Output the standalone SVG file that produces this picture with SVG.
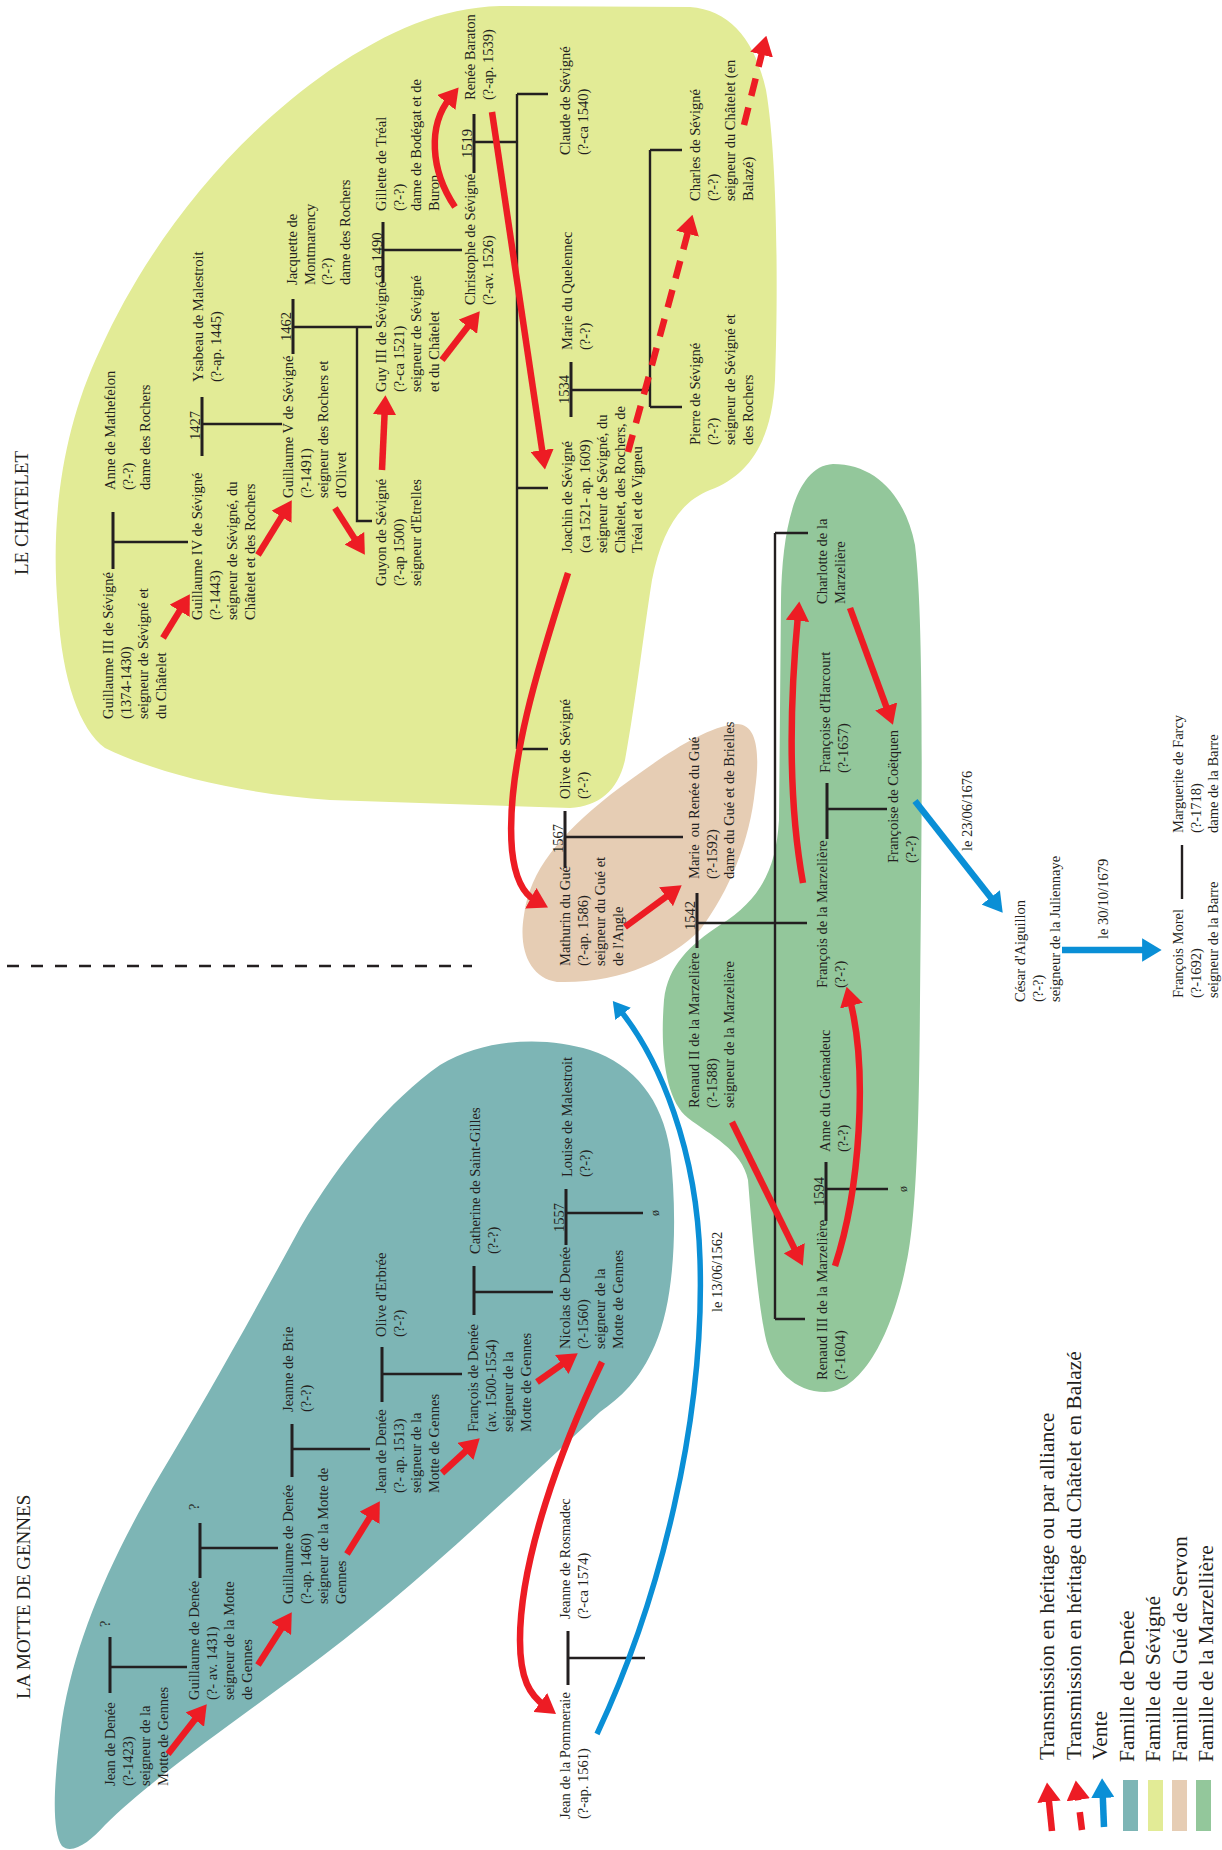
<svg xmlns="http://www.w3.org/2000/svg" width="1222" height="1850" viewBox="0 0 1222 1850">
<style>
.t{font-family:"Liberation Serif","Times New Roman",serif;font-size:14.5px;fill:#231f20}
.ttl{font-family:"Liberation Serif","Times New Roman",serif;font-size:19px;fill:#231f20}
.lg{font-family:"Liberation Serif","Times New Roman",serif;font-size:21.5px;fill:#231f20}
.ln{stroke:#231f20;stroke-width:2.4;fill:none}
.bar{stroke:#231f20;stroke-width:3;fill:none}
.red{stroke:#ed1c24;stroke-width:6.5;fill:none;marker-end:url(#hr)}
.dsh{stroke-dasharray:18 12}
.blue{stroke:#0a8fd6;stroke-width:6.5;fill:none;marker-end:url(#hb)}
.bluel{stroke:#0a8fd6;stroke-width:5.5;fill:none;marker-end:url(#hb)}
</style>
<defs>
<marker id="hr" viewBox="0 0 10 12" refX="3" refY="6" markerWidth="3" markerHeight="3.6" orient="auto" markerUnits="strokeWidth"><path d="M0,0 L10,6 L0,12 z" fill="#ed1c24"/></marker>
<marker id="hb" viewBox="0 0 10 12" refX="3" refY="6" markerWidth="3" markerHeight="3.6" orient="auto" markerUnits="strokeWidth"><path d="M0,0 L10,6 L0,12 z" fill="#0a8fd6"/></marker>
</defs>
<rect width="1222" height="1850" fill="#ffffff"/>

<!-- family areas -->
<g id="areas">
<path id="area-denee" fill="#7db5b5" d="M62,1846 C50,1830 55,1770 62,1720 C75,1640 110,1560 160,1475 C205,1400 250,1320 300,1228 C340,1160 390,1100 440,1065 C485,1038 545,1036 590,1050 C635,1065 662,1100 670,1150 C678,1220 675,1300 655,1345 C640,1380 620,1398 600,1412 C500,1505 400,1600 300,1673 C230,1725 150,1780 105,1825 C90,1842 72,1855 62,1846 Z"/>
<path id="area-sevigne" fill="#e2eb96" d="M58,610 C50,520 62,430 100,350 C150,240 230,140 330,70 C390,30 440,8 500,6 L690,7 C730,10 755,40 766,90 C778,160 778,300 775,380 C772,440 750,475 710,490 C680,502 662,530 652,580 C644,630 636,700 625,760 C618,790 600,806 570,808 L330,800 C250,795 160,775 105,748 C80,730 62,680 58,610 Z"/>
<path id="area-marzeliere" fill="#93c79b" d="M833,464 C875,464 905,495 915,545 C924,620 922,800 920,1000 C919,1150 915,1230 905,1270 C890,1340 860,1392 825,1392 C795,1392 772,1370 765,1335 C757,1295 752,1230 748,1180 C742,1150 710,1135 688,1118 C665,1100 660,1050 664,1000 C668,965 690,945 720,925 C760,900 776,870 779,820 L781,600 C782,530 795,466 833,464 Z"/>
<path id="area-gue" fill="#e6cdb4" d="M557,982 C530,978 518,950 524,915 C530,870 560,835 610,795 C650,765 700,728 735,724 C758,722 760,755 755,790 C750,840 730,890 700,930 C670,960 620,984 557,982 Z"/>
</g>

<!-- separator between the two estates -->
<line class="ln" x1="7" y1="966" x2="472" y2="966" stroke-width="2.5" stroke-dasharray="12 12"/>

<!-- titles -->
<text class="ttl" transform="translate(28,575) rotate(-90)">LE CHATELET</text>
<text class="ttl" transform="translate(30,1699) rotate(-90)">LA MOTTE DE GENNES</text>

<!-- kinship lines -->
<g id="connectors">
<path class="bar" d="M113,512 V569 M202,397 V456 M293,299 V354 M383,222 V283 M474,114 V173 M571,362 V417 M565,811 V867 M697,893 V948 M827,783 V839 M826,1162 V1221 M566,1189 V1245 M474,1266 V1315 M382,1347 V1402 M292,1424 V1477 M200,1523 V1578 M110,1637 V1693 M568,1631 V1685"/>
<path class="ln" d="M113,542 H188 M202,424 H282 M293,327 H372 M357,327 V521 H372 M383,250 H462 M474,142 H517 M517,94 V749 M517,94 H548 M517,488 H548 M517,749 H548 M571,390 H650 M650,150 V407 M650,150 H682 M650,407 H682 M565,837 H683 M697,923 H807 M775,533 V1319 M775,533 H808 M775,1319 H805 M827,809 H887 M826,1189 H888 M566,1213 H643 M474,1292 H553 M382,1374 H462 M292,1449 H370 M200,1548 H278 M110,1667 H187 M568,1658 H645 M1182,845 V899"/>
</g>

<!-- marriage years and marks -->
<g id="years" class="t">
<text transform="translate(200,440) rotate(-90)">1427</text>
<text transform="translate(291,341) rotate(-90)">1462</text>
<text transform="translate(382,278) rotate(-90)">ca 1490</text>
<text transform="translate(472,158) rotate(-90)">1519</text>
<text transform="translate(569,404) rotate(-90)">1534</text>
<text transform="translate(563,853) rotate(-90)">1567</text>
<text transform="translate(695,930) rotate(-90)">1542</text>
<text transform="translate(824,1206) rotate(-90)">1594</text>
<text transform="translate(564,1232) rotate(-90)">1557</text>
<text transform="translate(110,1627) rotate(-90)">?</text>
<text transform="translate(199,1510) rotate(-90)">?</text>
<text transform="translate(907,1189) rotate(-90)" text-anchor="middle" font-size="12">ø</text>
<text transform="translate(659,1213) rotate(-90)" text-anchor="middle" font-size="12">ø</text>
</g>

<!-- persons -->
<g id="n-guillaume-iii" transform="translate(113,719) rotate(-90)"><text class="t"><tspan x="0" y="0">Guillaume III de Sévigné</tspan><tspan x="0" y="17.5">(1374-1430)</tspan><tspan x="0" y="35">seigneur de Sévigné et</tspan><tspan x="0" y="52.5">du Châtelet</tspan></text></g>
<g id="n-anne-mathefelon" transform="translate(115,490) rotate(-90)"><text class="t"><tspan x="0" y="0">Anne de Mathefelon</tspan><tspan x="0" y="17.5">(?-?)</tspan><tspan x="0" y="35">dame des Rochers</tspan></text></g>
<g id="n-guillaume-iv" transform="translate(202,620) rotate(-90)"><text class="t"><tspan x="0" y="0">Guillaume IV de Sévigné</tspan><tspan x="0" y="17.5">(?-1443)</tspan><tspan x="0" y="35">seigneur de Sévigné, du</tspan><tspan x="0" y="52.5">Châtelet et des Rochers</tspan></text></g>
<g id="n-ysabeau" transform="translate(203,382) rotate(-90)"><text class="t"><tspan x="0" y="0">Ysabeau de Malestroit</tspan><tspan x="0" y="17.5">(?-ap. 1445)</tspan></text></g>
<g id="n-guillaume-v" transform="translate(293,498) rotate(-90)"><text class="t"><tspan x="0" y="0">Guillaume V de Sévigné</tspan><tspan x="0" y="17.5">(?-1491)</tspan><tspan x="0" y="35">seigneur des Rochers et</tspan><tspan x="0" y="52.5">d'Olivet</tspan></text></g>
<g id="n-jacquette" transform="translate(297,285) rotate(-90)"><text class="t"><tspan x="0" y="0">Jacquette de</tspan><tspan x="0" y="17.5">Montmarency</tspan><tspan x="0" y="35">(?-?)</tspan><tspan x="0" y="52.5">dame des Rochers</tspan></text></g>
<g id="n-guyon" transform="translate(386,586) rotate(-90)"><text class="t"><tspan x="0" y="0">Guyon de Sévigné</tspan><tspan x="0" y="17.5">(?-ap 1500)</tspan><tspan x="0" y="35">seigneur d'Etrelles</tspan></text></g>
<g id="n-guy-iii" transform="translate(386,392) rotate(-90)"><text class="t"><tspan x="0" y="0">Guy III de Sévigné</tspan><tspan x="0" y="17.5">(?-ca 1521)</tspan><tspan x="0" y="35">seigneur de Sévigné</tspan><tspan x="0" y="52.5">et du Châtelet</tspan></text></g>
<g id="n-gillette" transform="translate(386,211) rotate(-90)"><text class="t"><tspan x="0" y="0">Gillette de Tréal</tspan><tspan x="0" y="17.5">(?-?)</tspan><tspan x="0" y="35">dame de Bodégat et de</tspan><tspan x="0" y="52.5">Buron</tspan></text></g>
<g id="n-christophe" transform="translate(475,305) rotate(-90)"><text class="t"><tspan x="0" y="0">Christophe de Sévigné</tspan><tspan x="0" y="17.5">(?-av. 1526)</tspan></text></g>
<g id="n-renee-baraton" transform="translate(475,100) rotate(-90)"><text class="t"><tspan x="0" y="0">Renée Baraton</tspan><tspan x="0" y="17.5">(?-ap. 1539)</tspan></text></g>
<g id="n-claude" transform="translate(570,155) rotate(-90)"><text class="t"><tspan x="0" y="0">Claude de Sévigné</tspan><tspan x="0" y="17.5">(?-ca 1540)</tspan></text></g>
<g id="n-marie-quelennec" transform="translate(572,350) rotate(-90)"><text class="t"><tspan x="0" y="0">Marie du Quelennec</tspan><tspan x="0" y="17.5">(?-?)</tspan></text></g>
<g id="n-joachin" transform="translate(572,553) rotate(-90)"><text class="t"><tspan x="0" y="0">Joachin de Sévigné</tspan><tspan x="0" y="17.5">(ca 1521- ap. 1609)</tspan><tspan x="0" y="35">seigneur de Sévigné, du</tspan><tspan x="0" y="52.5">Châtelet, des Rochers, de</tspan><tspan x="0" y="70">Tréal et de Vigneu</tspan></text></g>
<g id="n-charles" transform="translate(700,201) rotate(-90)"><text class="t"><tspan x="0" y="0">Charles de Sévigné</tspan><tspan x="0" y="17.5">(?-?)</tspan><tspan x="0" y="35">seigneur du Châtelet (en</tspan><tspan x="0" y="52.5">Balazé)</tspan></text></g>
<g id="n-pierre" transform="translate(700,445) rotate(-90)"><text class="t"><tspan x="0" y="0">Pierre de Sévigné</tspan><tspan x="0" y="17.5">(?-?)</tspan><tspan x="0" y="35">seigneur de Sévigné et</tspan><tspan x="0" y="52.5">des Rochers</tspan></text></g>
<g id="n-olive-sevigne" transform="translate(570,799) rotate(-90)"><text class="t"><tspan x="0" y="0">Olive de Sévigné</tspan><tspan x="0" y="17.5">(?-?)</tspan></text></g>
<g id="n-mathurin" transform="translate(570,966) rotate(-90)"><text class="t"><tspan x="0" y="0">Mathurin du Gué</tspan><tspan x="0" y="17.5">(?-ap. 1586)</tspan><tspan x="0" y="35">seigneur du Gué et</tspan><tspan x="0" y="52.5">de l'Angle</tspan></text></g>
<g id="n-marie-gue" transform="translate(699,879) rotate(-90)"><text class="t" xml:space="preserve"><tspan x="0" y="0">Marie  ou Renée du Gué</tspan><tspan x="0" y="17.5">(?-1592)</tspan><tspan x="0" y="35">dame du Gué et de Brielles</tspan></text></g>
<g id="n-renaud-ii" transform="translate(699,1108) rotate(-90)"><text class="t"><tspan x="0" y="0">Renaud II de la Marzelière</tspan><tspan x="0" y="17.5">(?-1588)</tspan><tspan x="0" y="35">seigneur de la Marzelière</tspan></text></g>
<g id="n-charlotte" transform="translate(827,604) rotate(-90)"><text class="t"><tspan x="0" y="0">Charlotte de la</tspan><tspan x="0" y="17.5">Marzelière</tspan></text></g>
<g id="n-francoise-harcourt" transform="translate(830,773) rotate(-90)"><text class="t"><tspan x="0" y="0">Françoise d'Harcourt</tspan><tspan x="0" y="17.5">(?-1657)</tspan></text></g>
<g id="n-francois-marzeliere" transform="translate(827,988) rotate(-90)"><text class="t"><tspan x="0" y="0">François de la Marzelière</tspan><tspan x="0" y="17.5">(?-?)</tspan></text></g>
<g id="n-francoise-coetquen" transform="translate(898,863) rotate(-90)"><text class="t"><tspan x="0" y="0">Françoise de Coëtquen</tspan><tspan x="0" y="17.5">(?-?)</tspan></text></g>
<g id="n-anne-guemadeuc" transform="translate(830,1152) rotate(-90)"><text class="t"><tspan x="0" y="0">Anne du Guémadeuc</tspan><tspan x="0" y="17.5">(?-?)</tspan></text></g>
<g id="n-renaud-iii" transform="translate(827,1380) rotate(-90)"><text class="t"><tspan x="0" y="0">Renaud III de la Marzelière</tspan><tspan x="0" y="17.5">(?-1604)</tspan></text></g>
<g id="n-cesar" transform="translate(1025,1002) rotate(-90)"><text class="t"><tspan x="0" y="0">César d'Aiguillon</tspan><tspan x="0" y="17.5">(?-?)</tspan><tspan x="0" y="35">seigneur de la Juliennaye</tspan></text></g>
<g id="n-francois-morel" transform="translate(1183,998) rotate(-90)"><text class="t"><tspan x="0" y="0">François Morel</tspan><tspan x="0" y="17.5">(?-1692)</tspan><tspan x="0" y="35">seigneur de la Barre</tspan></text></g>
<g id="n-marguerite-farcy" transform="translate(1183,833) rotate(-90)"><text class="t"><tspan x="0" y="0">Marguerite de Farcy</tspan><tspan x="0" y="17.5">(?-1718)</tspan><tspan x="0" y="35">dame de la Barre</tspan></text></g>
<g id="n-louise-malestroit" transform="translate(572,1177) rotate(-90)"><text class="t"><tspan x="0" y="0">Louise de Malestroit</tspan><tspan x="0" y="17.5">(?-?)</tspan></text></g>
<g id="n-catherine" transform="translate(480,1254) rotate(-90)"><text class="t"><tspan x="0" y="0">Catherine de Saint-Gilles</tspan><tspan x="0" y="17.5">(?-?)</tspan></text></g>
<g id="n-nicolas" transform="translate(570,1349) rotate(-90)"><text class="t"><tspan x="0" y="0">Nicolas de Denée</tspan><tspan x="0" y="17.5">(?-1560)</tspan><tspan x="0" y="35">seigneur de la</tspan><tspan x="0" y="52.5">Motte de Gennes</tspan></text></g>
<g id="n-francois-denee" transform="translate(478,1432) rotate(-90)"><text class="t"><tspan x="0" y="0">François de Denée</tspan><tspan x="0" y="17.5">(av. 1500-1554)</tspan><tspan x="0" y="35">seigneur de la</tspan><tspan x="0" y="52.5">Motte de Gennes</tspan></text></g>
<g id="n-olive-erbree" transform="translate(386,1337) rotate(-90)"><text class="t"><tspan x="0" y="0">Olive d'Erbrée</tspan><tspan x="0" y="17.5">(?-?)</tspan></text></g>
<g id="n-jean-denee-1513" transform="translate(386,1493) rotate(-90)"><text class="t"><tspan x="0" y="0">Jean de Denée</tspan><tspan x="0" y="17.5">(?- ap. 1513)</tspan><tspan x="0" y="35">seigneur de la</tspan><tspan x="0" y="52.5">Motte de Gennes</tspan></text></g>
<g id="n-jeanne-brie" transform="translate(293,1412) rotate(-90)"><text class="t"><tspan x="0" y="0">Jeanne de Brie</tspan><tspan x="0" y="17.5">(?-?)</tspan></text></g>
<g id="n-guillaume-denee-1460" transform="translate(293,1604) rotate(-90)"><text class="t"><tspan x="0" y="0">Guillaume de Denée</tspan><tspan x="0" y="17.5">(?-ap. 1460)</tspan><tspan x="0" y="35">seigneur de la Motte de</tspan><tspan x="0" y="52.5">Gennes</tspan></text></g>
<g id="n-guillaume-denee-1431" transform="translate(199,1700) rotate(-90)"><text class="t"><tspan x="0" y="0">Guillaume de Denée</tspan><tspan x="0" y="17.5">(?- av. 1431)</tspan><tspan x="0" y="35">seigneur de la Motte</tspan><tspan x="0" y="52.5">de Gennes</tspan></text></g>
<g id="n-jean-denee-1423" transform="translate(115,1786) rotate(-90)"><text class="t"><tspan x="0" y="0">Jean de Denée</tspan><tspan x="0" y="17.5">(?-1423)</tspan><tspan x="0" y="35">seigneur de la</tspan><tspan x="0" y="52.5">Motte de Gennes</tspan></text></g>
<g id="n-jeanne-rosmadec" transform="translate(570,1619) rotate(-90)"><text class="t"><tspan x="0" y="0">Jeanne de Rosmadec</tspan><tspan x="0" y="17.5">(?-ca 1574)</tspan></text></g>
<g id="n-jean-pommeraie" transform="translate(570,1819) rotate(-90)"><text class="t"><tspan x="0" y="0">Jean de la Pommeraie</tspan><tspan x="0" y="17.5">(?-ap. 1561)</tspan></text></g>

<!-- sale dates -->
<g id="dates" class="t">
<text transform="translate(972,851) rotate(-90)">le 23/06/1676</text>
<text transform="translate(1108,939) rotate(-90)">le 30/10/1679</text>
<text transform="translate(722,1312) rotate(-90)">le 13/06/1562</text>
</g>

<!-- transmissions -->
<g id="transmissions">
<path class="red" d="M163,638 L182.7,605.9"/>
<path class="red" d="M258,555 L284.6,511.9"/>
<path class="red" d="M335,508 L357.5,543.2"/>
<path class="red" d="M382,470 L384.8,409"/>
<path class="red" d="M442,360 L471.4,322.1"/>
<path class="red" d="M455,207 C430,170 428,125 450,98"/>
<path class="red" d="M492,112 L543,456"/>
<path class="red" d="M568,573 C540,660 505,770 512,850 C515,880 525,895 536,901"/>
<path class="red" d="M625,927 L670.7,893.3"/>
<path class="red" d="M732,1122 L796.8,1253.4"/>
<path class="red" d="M835,1266 C860,1190 868,1070 850,1000"/>
<path class="red" d="M803,883 C788,800 790,700 798,615"/>
<path class="red" d="M850,608 L888.2,711.9"/>
<path class="red" d="M168,1754 L198.4,1715"/>
<path class="red" d="M258,1665 L284.4,1623.8"/>
<path class="red" d="M347,1554 L372.6,1512.9"/>
<path class="red" d="M442,1473 L469.7,1447.5"/>
<path class="red" d="M537,1382 L566.6,1361.1"/>
<path class="red" d="M602,1362 C560,1450 520,1560 520,1640 C520,1680 530,1695 545,1706"/>
<path class="red dsh" d="M628,452 C645,390 670,300 689,228"/>
<path class="red dsh" d="M744,125 L763,49"/>
<path class="bluel" d="M597,1734 C660,1600 705,1420 700,1260 C697,1150 660,1060 620,1010"/>
<path class="blue" d="M915,801 L994.3,902"/>
<path class="blue" d="M1062,950 L1148,950"/>
</g>

<!-- legend -->
<g id="legend">
<path class="red" d="M1052,1831 L1048.4,1796"/>
<path class="red dsh" d="M1082,1830 L1077.5,1794"/>
<path class="blue" d="M1104,1827 L1102.6,1792"/>
<rect x="1123" y="1780" width="15" height="51" fill="#7db5b5"/>
<rect x="1148" y="1780" width="15" height="51" fill="#e2eb96"/>
<rect x="1172" y="1780" width="15" height="51" fill="#e6cdb4"/>
<rect x="1196" y="1780" width="15" height="51" fill="#93c79b"/>
<text class="lg" transform="translate(1054,1760) rotate(-90)">Transmission en héritage ou par alliance</text>
<text class="lg" transform="translate(1081,1760) rotate(-90)">Transmission en héritage du Châtelet en Balazé</text>
<text class="lg" transform="translate(1107,1760) rotate(-90)">Vente</text>
<text class="lg" transform="translate(1134,1762) rotate(-90)">Famille de Denée</text>
<text class="lg" transform="translate(1160,1762) rotate(-90)">Famille de Sévigné</text>
<text class="lg" transform="translate(1187,1762) rotate(-90)">Famille du Gué de Servon</text>
<text class="lg" transform="translate(1213,1762) rotate(-90)">Famille de la Marzellière</text>
</g>
</svg>
